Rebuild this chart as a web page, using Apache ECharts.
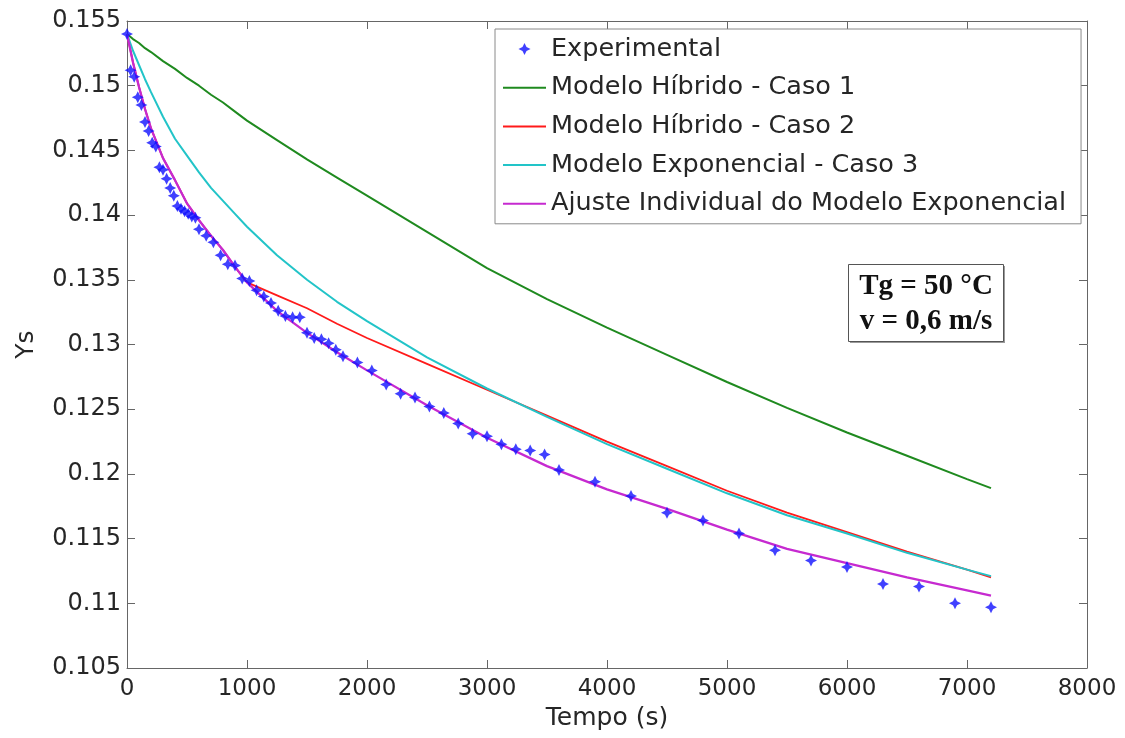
<!DOCTYPE html>
<html>
<head>
<meta charset="utf-8">
<script src="https://cdn.jsdelivr.net/npm/echarts@6/dist/echarts.min.js"></script>
<style>
  html, body { margin: 0; padding: 0; background: #ffffff; }
  #chart { width: 1125px; height: 738px; }
</style>
</head>
<body>
<div id="chart"></div>
<script>
// ---- data ----
const expTime = [0,30,60,90,120,150,180,210,240,270,300,330,360,390,420,450,480,510,540,570,
  600,660,720,780,840,900,960,1020,1080,1140,1200,1260,1320,1380,1440,1500,1560,1620,1680,1740,1800,
  1920,2040,2160,2280,2400,2520,2640,2760,2880,3000,3120,3240,3360,3480,3600,
  3900,4200,4500,4800,5100,5400,5700,6000,6300,6600,6900,7200];
const expYs = [0.1540,0.1512,0.1507,0.1491,0.1485,0.1472,0.1465,0.1456,0.1453,0.1437,0.1435,0.1428,0.1421,0.1415,0.1407,0.1405,0.1403,0.1401,0.1399,0.1398,
  0.1389,0.1384,0.1379,0.1369,0.1362,0.1361,0.1351,0.1349,0.1342,0.1337,0.1332,0.1326,0.1322,0.1321,0.1321,0.1309,0.1305,0.1304,0.1301,0.1296,0.1291,
  0.1286,0.1280,0.1269,0.1262,0.1259,0.1252,0.1247,0.1239,0.1231,0.1229,0.1223,0.1219,0.1218,0.1215,0.1203,
  0.1194,0.1183,0.1170,0.1164,0.1154,0.1141,0.1133,0.1128,0.1115,0.1113,0.1100,0.1097];

const modelTime = [0,50,100,150,200,300,400,500,600,700,800,900,1000,1250,1500,1750,2000,2500,3000,3500,4000,4500,5000,5500,6000,6500,7000,7200];
const caso1 = [0.1540,0.1536,0.1533,0.1529,0.1526,0.1519,0.1513,0.1506,0.1500,0.1493,0.1487,0.1480,0.1473,0.1458,0.1443,0.1429,0.1415,0.1387,0.1359,0.1335,0.1313,0.1292,0.1271,0.1251,0.1232,0.1214,0.1196,0.1189];
const caso2 = [0.1540,0.1518,0.1499,0.1482,0.1467,0.1444,0.1427,0.1409,0.1396,0.1384,0.1373,0.1360,0.1348,0.1338,0.1328,0.1316,0.1305,0.1285,0.1265,0.1245,0.1225,0.1206,0.1187,0.1170,0.1155,0.1140,0.1126,0.1120];
const caso3 = [0.1540,0.1527,0.1516,0.1505,0.1495,0.1476,0.1459,0.1446,0.1433,0.1421,0.1411,0.1401,0.1391,0.1369,0.1350,0.1333,0.1318,0.1290,0.1266,0.1244,0.1223,0.1204,0.1185,0.1168,0.1154,0.1139,0.1126,0.1121];
const ajuste = [0.1540,0.1518,0.1499,0.1482,0.1467,0.1444,0.1427,0.1409,0.1396,0.1384,0.1373,0.1360,0.1348,0.1326,0.1309,0.1294,0.1280,0.1253,0.1228,0.1206,0.1188,0.1173,0.1157,0.1142,0.1131,0.1120,0.1110,0.1106];

const xTicks = [0,1000,2000,3000,4000,5000,6000,7000,8000];
const yTickLabels = ['0.105','0.11','0.115','0.12','0.125','0.13','0.135','0.14','0.145','0.15','0.155'];

const seriesNames = ['Experimental','Modelo Híbrido - Caso 1','Modelo Híbrido - Caso 2','Modelo Exponencial - Caso 3','Ajuste Individual do Modelo Exponencial'];
const annotation = ['Tg = 50 °C', 'v = 0,6 m/s'];

// ---- build ----
const pairs = (xs, ys) => xs.map((x, i) => [x, ys[i]]);
const chart = echarts.init(document.getElementById('chart'));
const sans = 'DejaVu Sans';
const axisGray = '#666666';
const textCol = '#262626';

function lineSeries(name, ys, color, z, width) {
  return {
    name, type: 'line', data: pairs(modelTime, ys), showSymbol: false, symbol: 'none',
    smooth: false, z,
    lineStyle: { color, width }, itemStyle: { color }
  };
}

const starPath = 'path://M0,-6 L2,-2 L6,0 L2,2 L0,6 L-2,2 L-6,0 L-2,-2 Z';

chart.setOption({
  animation: false,
  backgroundColor: '#ffffff',
  grid: { left: 127, top: 21, width: 960, height: 647, containLabel: false },
  xAxis: [
    {
      type: 'value', min: xTicks[0], max: xTicks[xTicks.length - 1], interval: 1000,
      name: 'Tempo (s)', nameLocation: 'middle', nameGap: 36,
      nameTextStyle: { fontFamily: sans, fontSize: 25, color: textCol },
      axisLine: { show: true, lineStyle: { color: axisGray, width: 1 } },
      axisTick: { show: true, inside: true, length: 8, lineStyle: { color: axisGray } },
      axisLabel: { fontFamily: sans, fontSize: 23, color: textCol, margin: 10, formatter: v => String(v) },
      splitLine: { show: false }
    },
    {
      type: 'value', position: 'top', min: xTicks[0], max: xTicks[xTicks.length - 1], interval: 1000,
      axisLine: { show: true, onZero: false, lineStyle: { color: axisGray, width: 1 } },
      axisTick: { show: true, inside: true, length: 8, lineStyle: { color: axisGray } },
      axisLabel: { show: false }, splitLine: { show: false }
    }
  ],
  yAxis: [
    {
      type: 'value', min: 0.105, max: 0.155, interval: 0.005,
      name: 'Ys', nameLocation: 'middle', nameGap: 88, nameRotate: 90,
      nameTextStyle: { fontFamily: sans, fontSize: 25, color: textCol },
      axisLine: { show: true, lineStyle: { color: axisGray, width: 1 } },
      axisTick: { show: true, inside: true, length: 8, lineStyle: { color: axisGray } },
      axisLabel: {
        fontFamily: sans, fontSize: 24, color: textCol, margin: 6,
        formatter: v => yTickLabels[Math.round((v - 0.105) / 0.005)]
      },
      splitLine: { show: false }
    },
    {
      type: 'value', position: 'right', min: 0.105, max: 0.155, interval: 0.005,
      axisLine: { show: true, onZero: false, lineStyle: { color: axisGray, width: 1 } },
      axisTick: { show: true, inside: true, length: 8, lineStyle: { color: axisGray } },
      axisLabel: { show: false }, splitLine: { show: false }
    }
  ],
  legend: {
    orient: 'vertical', left: 495, top: 29,
    data: seriesNames.map((n, i) => i === 0 ? { name: n } : { name: n, itemStyle: { opacity: 0 } }),
    itemWidth: 43, itemHeight: 12, itemGap: 12.7,
    padding: [7, 15, 7, 7],
    borderColor: '#8a8a8a', borderWidth: 1, backgroundColor: '#ffffff',
    textStyle: { fontFamily: sans, fontSize: 25.5, color: textCol, padding: [0, 0, 0, 0] },
    z: 20
  },
  series: [
    lineSeries(seriesNames[1], caso1, '#1f8a1f', 2, 2),
    lineSeries(seriesNames[2], caso2, '#ff1a1a', 3, 1.8),
    lineSeries(seriesNames[3], caso3, '#22c4c8', 3, 2),
    lineSeries(seriesNames[4], ajuste, '#c62ad0', 4, 2.3),
    {
      name: seriesNames[0], type: 'scatter', data: pairs(expTime, expYs),
      symbol: starPath, symbolSize: 12, z: 6,
      itemStyle: { color: '#1010ff' }
    }
  ],
  graphic: [
    {
      type: 'group', left: 848, top: 264, z: 30,
      children: [
        { type: 'rect', shape: { x: 1.5, y: 1.5, width: 155, height: 77 }, style: { fill: '#9a9a9a' } },
        { type: 'rect', shape: { x: 0, y: 0, width: 155, height: 77 }, style: { fill: '#ffffff', stroke: '#555555', lineWidth: 1 } },
        { type: 'text', x: 77.5, y: 22, style: { text: annotation[0], font: 'bold 29px "Liberation Serif"', fill: '#111111', align: 'center', verticalAlign: 'middle' } },
        { type: 'text', x: 77.5, y: 57, style: { text: annotation[1], font: 'bold 29px "Liberation Serif"', fill: '#111111', align: 'center', verticalAlign: 'middle' } }
      ]
    }
  ]
});
</script>
</body>
</html>
